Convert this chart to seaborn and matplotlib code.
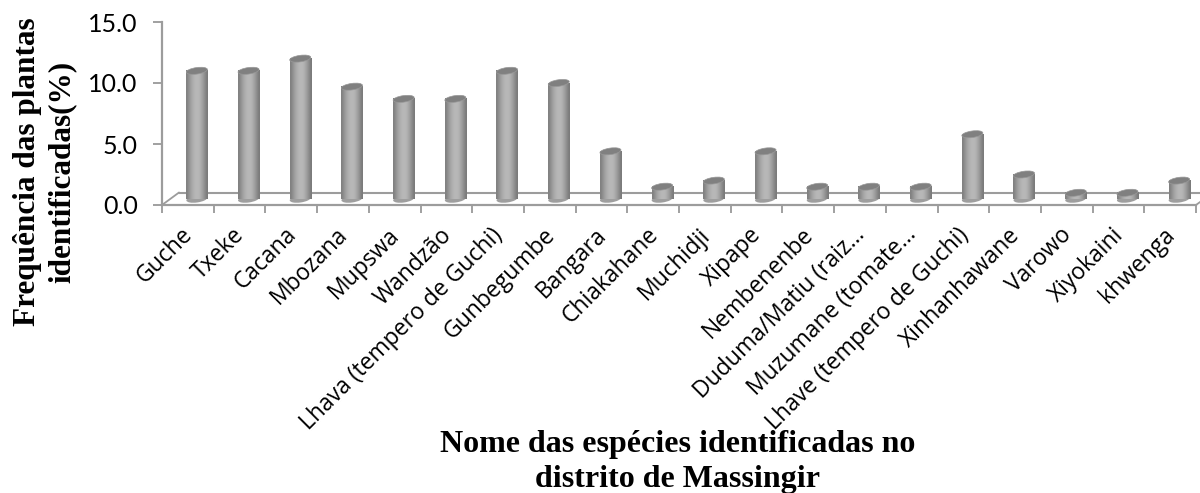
import numpy as np
import pandas as pd
import seaborn as sns
import matplotlib.pyplot as plt
from matplotlib.patches import Ellipse
from matplotlib.transforms import IdentityTransform, ScaledTranslation

# Plant names and frequency (%), read at the top of each cylinder
species = ['Guche', 'Txeke', 'Cacana', 'Mbozana', 'Mupswa', 'Wandzão',
           'Lhava (tempero de Guchi)', 'Gunbegumbe', 'Bangara', 'Chiakahane',
           'Muchidji', 'Xipape', 'Nembenenbe', 'Duduma/Matiu (raiz…',
           'Muzumane (tomate…', 'Lhave (tempero de Guchi)', 'Xinhanhawane',
           'Varowo', 'Xiyokaini', 'khwenga']
freq = [11.0, 11.0, 12.0, 9.7, 8.7, 8.7, 11.0, 10.0, 4.4, 1.5,
        2.0, 4.4, 1.5, 1.5, 1.5, 5.8, 2.5, 1.0, 1.0, 2.0]
y_ticks = [0, 5, 10, 15]

df = pd.DataFrame({'species': species, 'freq': freq})

W, H = 1200, 493
GRAY = '#9c9c9c'

sns.set_style('white')
plt.rcParams['font.family'] = ['Open Sans', 'DejaVu Sans']
plt.rcParams['text.color'] = 'black'

fig = plt.figure(figsize=(12, 4.93), dpi=100)
ax = fig.add_axes([162 / W, 1 - 205 / H, (1196 - 162) / W, (205 - 22) / H])

sns.barplot(data=df, x='species', y='freq', color='#a6a6a6', width=0.41,
            saturation=1, ax=ax)
ax.set_xlim(-0.5, 19.5)
ax.set_ylim(0, 15)
fig.canvas.draw()

# bars stand back on the floor, so shift them and make them look like cylinders
dx = 9 / 51.7
base = 6 / 12.2
shade = np.array([0.5, 0.56, 0.62, 0.67, 0.7, 0.72, 0.72, 0.7, 0.66, 0.6, 0.54, 0.48])[None, :]
for p in ax.patches:
    p.set_x(p.get_x() + dx)
    top = p.get_height()
    p.set_y(base)
    p.set_height(top - base)
    x0 = p.get_x()
    x1 = x0 + p.get_width()
    ax.imshow(shade, cmap='gray', vmin=0, vmax=1, aspect='auto', zorder=3,
              extent=(x0, x1, base, top), interpolation='bicubic')
    bx0, by0 = ax.transData.transform((x0 + p.get_width() / 2, base))
    bx1, by1 = ax.transData.transform((x0 + p.get_width() / 2, top))
    w_px = p.get_width() * 51.7
    ax.add_patch(Ellipse((bx0, by0), w_px, 7, angle=8, transform=IdentityTransform(),
                         fc='#9e9e9e', ec='none', zorder=2.9, clip_on=False))
    ax.add_patch(Ellipse((bx1, by1), w_px, 6.5, angle=8, transform=IdentityTransform(),
                         fc='#808080', ec='#989898', lw=0.5, zorder=3.1, clip_on=False))
ax.set_xlim(-0.5, 19.5)
ax.set_ylim(0, 15)

# floor of the 3d box
back = 12.5 / 12.2
skew = 17 / 51.7
ax.plot([-0.5 + skew, 19.5 + skew], [back, back], color=GRAY, lw=1.5, zorder=2, clip_on=False)
ax.plot([-0.5, -0.5 + skew], [0, back], color=GRAY, lw=1.3, zorder=2, clip_on=False)
ax.plot([19.5, 19.5 + skew], [0, back], color=GRAY, lw=1.3, zorder=2, clip_on=False)

sns.despine(ax=ax, top=True, right=True)
for s in ['left', 'bottom']:
    ax.spines[s].set_color(GRAY)
    ax.spines[s].set_linewidth(1.6)

ax.set_yticks(y_ticks)
ax.set_yticklabels([f'{v:.1f}' for v in y_ticks], fontsize=18, family=['Lato', 'DejaVu Sans'], color='black')
ax.set_xticks(np.arange(-0.5, 20, 1), minor=True)
ax.set_xticks(np.arange(20))
ax.set_xticklabels(species, rotation=45, ha='right', rotation_mode='anchor', fontsize=16.5, color='black')
ax.tick_params(axis='x', which='major', length=0, pad=13)
ax.tick_params(axis='x', which='minor', length=6, width=1.1, color='#868686', bottom=True)
ax.tick_params(axis='y', length=6.5, width=1.1, color='#868686', left=True, pad=11)
ax.set_xlabel('')
ax.set_ylabel('')

# the rotated labels sit a little left of the tick centres
shift = ScaledTranslation(-7 / 100, 0, fig.dpi_scale_trans)
for lab in ax.get_xticklabels():
    lab.set_transform(lab.get_transform() + shift)

serif = ['Liberation Serif', 'DejaVu Serif']
fig.text(45 / W, 1 - 172 / H, 'Frequência das plantas\nidentificadas(%)', rotation=90,
         ha='center', va='center', ma='center', fontsize=22.5, fontweight='bold',
         family=serif, linespacing=1.27, color='black')
fig.text(678 / W, 1 - 462 / H, 'Nome das espécies identificadas no\ndistrito de Massingir',
         ha='center', va='center', ma='center', fontsize=23, fontweight='bold',
         family=serif, linespacing=1.27, color='black')

fig.savefig('out.png', dpi=100)
